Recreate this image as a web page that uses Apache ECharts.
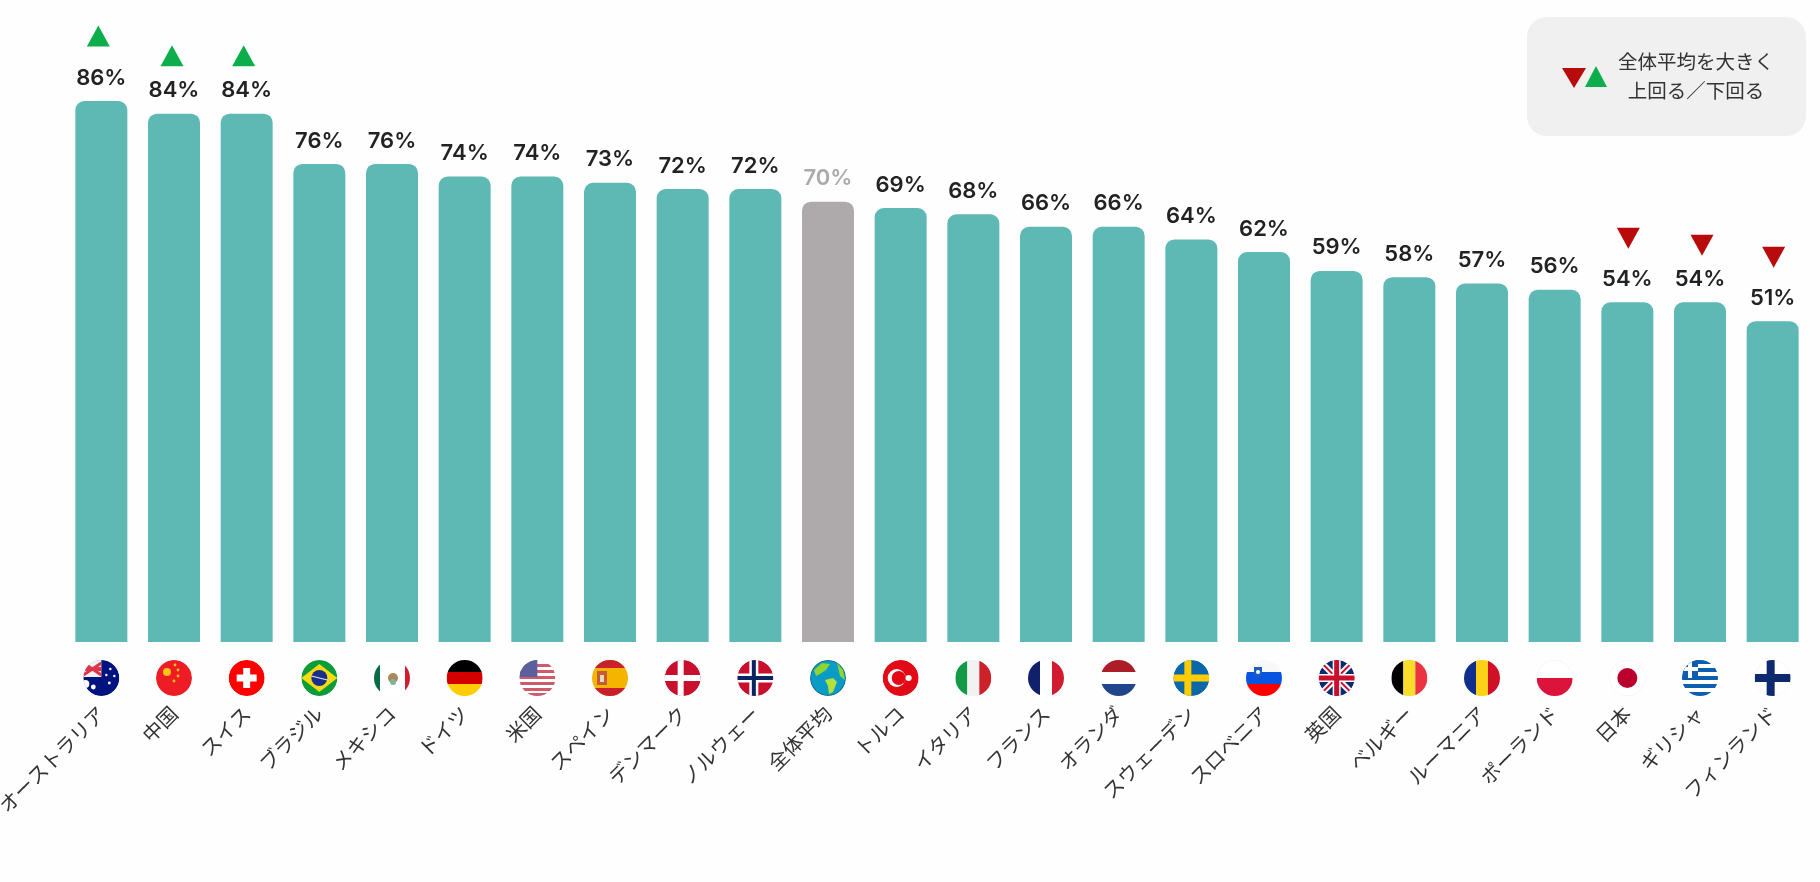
<!DOCTYPE html>
<html>
<head>
<meta charset="utf-8">
<style>
html,body{margin:0;padding:0;background:#fefefe;}
#chart{width:1820px;height:882px;}
</style>
<script src="https://cdn.jsdelivr.net/npm/echarts@6/dist/echarts.min.js"></script>
</head>
<body>
<div id="chart"></div>
<script>
var categories = ['オーストラリア','中国','スイス','ブラジル','メキシコ','ドイツ','米国','スペイン','デンマーク','ノルウェー','全体平均','トルコ','イタリア','フランス','オランダ','スウェーデン','スロベニア','英国','ベルギー','ルーマニア','ポーランド','日本','ギリシャ','フィンランド'];
var values = [86,84,84,76,76,74,74,73,72,72,70,69,68,66,66,64,62,59,58,57,56,54,54,51];
var flagKeys = ['au','cn','ch','br','mx','de','us','es','dk','no','globe','tr','it','fr','nl','se','si','uk','be','ro','pl','jp','gr','fi'];
var aboveAverage = ['オーストラリア','中国','スイス'];
var belowAverage = ['日本','ギリシャ','フィンランド'];
var averageName = '全体平均';

var JP_FONT = '"Noto Sans CJK JP"';

//マークの位置は国ごとに少しずれている
var markOffsets = {
    'オーストラリア':[-3,-65],
    '中国':[-2,-58],
    'スイス':[-3,-58],
    '日本':[1,-64],
    'ギリシャ':[2,-57],
    'フィンランド':[1,-64]
};

function R(x, y, w, h, c){
    return {type:'rect', shape:{x:x, y:y, width:w, height:h}, style:{fill:c}};
}
function C(x, y, r, c){
    return {type:'circle', shape:{cx:x, cy:y, r:r}, style:{fill:c}};
}
function P(points, c){
    return {type:'polygon', shape:{points:points}, style:{fill:c}};
}
function L(x1, y1, x2, y2, c, w){
    return {type:'line', shape:{x1:x1, y1:y1, x2:x2, y2:y2}, style:{stroke:c, lineWidth:w}};
}

//国旗 半径18の円の中に描く
function flagShapes(key){
    switch(key){
        case 'au': return [
            C(0,0,18,'#00137f'), R(-18,-18,18,17,'#f2f2f2'),
            L(-18,-15,0,-3,'#e0344a',3), L(0,-15,-18,-3,'#e0344a',3),
            R(-18,-11,18,4,'#e0344a'),
            C(-8,9,2.4,'#fff'), C(9,-9,1.2,'#fff'), C(13,-2,1.2,'#fff'), C(8,5,1.4,'#fff'), C(5,-3,1.2,'#fff'), C(-16,6,4,'#fff')
        ];
        case 'cn': return [
            C(0,0,18,'#ee1c25'), C(-7,-6,4,'#f7c515'), C(1,-13,1.4,'#f7c515'), C(4,-8,1.4,'#f7c515'), C(4,-2,1.4,'#f7c515'), C(0,3,1.4,'#f7c515')
        ];
        case 'ch': return [C(0,0,18,'#ff0000'), R(-3.5,-10,7,20,'#fff'), R(-10,-3.5,20,7,'#fff')];
        case 'br': return [
            C(0,0,18,'#0d9c3a'), P([[-18,0],[0,-14],[18,0],[0,14]],'#f5dc12'), C(0,0,8,'#1a2f8c'), L(-8,-2,8,2,'#dfe6ef',1.2)
        ];
        case 'mx': return [
            C(0,0,18,'#fff'), R(-18,-18,6,36,'#0a6a45'), R(13,-18,5,36,'#cf1f2e'), C(1,0,5,'#a9895a'), C(1,4,3,'#7fb49a')
        ];
        case 'de': return [R(-18,-18,36,12,'#000'), R(-18,-6,36,12,'#d40000'), R(-18,6,36,12,'#ffce00')];
        case 'us': return [
            R(-18,-18,36,36,'#fff'), R(-18,-14,36,3,'#cf5a6c'), R(-18,-8,36,3,'#cf5a6c'), R(-18,-2,36,3,'#cf5a6c'),
            R(-18,4,36,3,'#cf5a6c'), R(-18,10,36,3,'#cf5a6c'), R(-18,15,36,3,'#cf5a6c'), R(-18,-18,18,17,'#5b5f9d')
        ];
        case 'es': return [
            R(-18,-18,36,36,'#f4b400'), R(-18,-18,36,8,'#c8202d'), R(-18,10,36,8,'#c8202d'), R(-13,-7,10,14,'#c65a3a'), R(-10,-3,4,7,'#e6d9b8')
        ];
        case 'dk': return [C(0,0,18,'#c8102e'), R(-5,-18,6,36,'#fff'), R(-18,-3,36,6,'#fff')];
        case 'no': return [
            C(0,0,18,'#c8102e'), R(-6,-18,9,36,'#fff'), R(-18,-4.5,36,9,'#fff'), R(-3.5,-18,4,36,'#0a2463'), R(-18,-2,36,4,'#0a2463')
        ];
        case 'globe': return [
            C(0,0,18,'#0f6f7c'), C(0,0,17,'#0a9bc6'), P([[-14,-8],[-6,-15],[2,-14],[-2,-8],[-8,-4],[-12,-2]],'#8fd531'),
            P([[-3,2],[5,0],[9,4],[5,14],[1,16],[0,8]],'#b4e03a'), P([[9,-15],[15,-8],[17,2],[12,-2]],'#8fd531')
        ];
        case 'tr': return [C(0,0,18,'#e30a17'), C(-4,0,9,'#fff'), C(-2,0,7,'#e30a17'), C(8,0,3,'#fff')];
        case 'it': return [R(-18,-18,12,36,'#129a47'), R(-6,-18,12,36,'#f2f2f2'), R(6,-18,12,36,'#cd212a')];
        case 'fr': return [R(-18,-18,12,36,'#10206b'), R(-6,-18,12,36,'#fff'), R(6,-18,12,36,'#d01c2e')];
        case 'nl': return [R(-18,-18,36,12,'#ad1d28'), R(-18,-6,36,12,'#fff'), R(-18,6,36,12,'#21468b')];
        case 'se': return [C(0,0,18,'#0b68a8'), R(-7,-18,7,36,'#fecc02'), R(-18,-3.5,36,7,'#fecc02')];
        case 'si': return [
            C(0,0,18,'#f8f8f8'), R(-18,-6,36,12,'#0a55e0'), R(-18,6,36,12,'#ff0000'), P([[-10,-11],[-2,-11],[-2,-4],[-6,0],[-10,-4]],'#1a5fc8'), C(-6,-6,2,'#fff')
        ];
        case 'uk': return [
            C(0,0,18,'#0b2a6f'), L(-18,-18,18,18,'#fff',6), L(18,-18,-18,18,'#fff',6), L(-18,-18,18,18,'#c8102e',2), L(18,-18,-18,18,'#c8102e',2),
            R(-4,-18,8,36,'#fff'), R(-18,-4,36,8,'#fff'), R(-2.5,-18,5,36,'#c8102e'), R(-18,-2.5,36,5,'#c8102e')
        ];
        case 'be': return [R(-18,-18,12,36,'#000'), R(-6,-18,12,36,'#fadc2a'), R(6,-18,12,36,'#ee3340')];
        case 'ro': return [R(-18,-18,12,36,'#0f2f8f'), R(-6,-18,12,36,'#fcd116'), R(6,-18,12,36,'#ce1126')];
        case 'pl': return [C(0,0,18,'#f0f0f0'), C(0,0,17.4,'#fff'), R(-18,0,36,18,'#dc143c')];
        case 'jp': return [C(0,0,18,'#f0f0f0'), C(0,0,17.4,'#fff'), C(0,0,10,'#bc002d')];
        case 'gr': return [
            R(-18,-18,36,36,'#fff'), R(-18,-18,36,4,'#0d5eaf'), R(-18,-10,36,4,'#0d5eaf'), R(-18,-2,36,4,'#0d5eaf'), R(-18,6,36,4,'#0d5eaf'), R(-18,14,36,4,'#0d5eaf'),
            R(-18,-18,16,18,'#0d5eaf'), R(-12,-18,4,18,'#fff'), R(-18,-11,16,4,'#fff')
        ];
        case 'fi': return [C(0,0,18,'#f0f0f0'), C(0,0,17.4,'#fff'), R(-6,-18,8,36,'#0e2a6e'), R(-18,-4,36,8,'#0e2a6e')];
    }
    return [];
}

function renderFlag(params, api){
    var pos = api.coord([api.value(0), 0]);
    return {
        type:'group',
        x:pos[0],
        y:pos[1] + 36,
        clipPath:{type:'circle', shape:{cx:0, cy:0, r:18}},
        children:flagShapes(flagKeys[api.value(0)])
    };
}

function barData(){
    var res = [];
    for(var i = 0; i < values.length; i++){
        if(categories[i] === averageName){
            res.push({value:values[i], itemStyle:{color:'#aeaaab'}, label:{color:'#aeaaab'}});
        }else{
            res.push(values[i]);
        }
    }
    return res;
}

//全体平均との差のマーク
function markData(names){
    var res = [];
    for(var i = 0; i < categories.length; i++){
        if(names.indexOf(categories[i]) >= 0){
            res.push({value:[categories[i], values[i]], symbolOffset:markOffsets[categories[i]]});
        }
    }
    return res;
}

var flagData = [];
for(var i = 0; i < categories.length; i++){
    flagData.push([i, 0]);
}

var option = {
    backgroundColor:'#fefefe',
    animation:false,
    grid:{left:65, right:11, top:13, bottom:240, outerBoundsMode:'none'},
    xAxis:{
        type:'category',
        data:categories,
        axisLine:{show:false},
        axisTick:{show:false},
        axisLabel:{
            interval:0,
            rotate:45,
            margin:68,
            fontFamily:JP_FONT,
            fontSize:20,
            fontWeight:400,
            color:'#333333'
        }
    },
    yAxis:{type:'value', min:0, max:100, show:false},
    series:[
        {
            type:'bar',
            data:barData(),
            barWidth:52,
            itemStyle:{color:'#5eb8b4', borderRadius:[9,9,0,0]},
            label:{
                show:true,
                position:'top',
                distance:12,
                formatter:'{c}%',
                fontFamily:'Inter',
                fontWeight:600,
                fontSize:22,
                color:'#222222'
            }
        },
        {
            type:'scatter',
            data:markData(aboveAverage),
            symbol:'triangle',
            symbolSize:[23,21],
            itemStyle:{color:'#0cae4b', opacity:1}
        },
        {
            type:'scatter',
            data:markData(belowAverage),
            symbol:'triangle',
            symbolRotate:180,
            symbolSize:[23,21],
            itemStyle:{color:'#b90b0b', opacity:1}
        },
        {
            type:'custom',
            data:flagData,
            encode:{x:0, y:1},
            clip:false,
            silent:true,
            renderItem:renderFlag
        }
    ],
    graphic:[
        {type:'rect', left:1527, top:17, shape:{width:279, height:119, r:20}, style:{fill:'#f0f0f0'}},
        {type:'polygon', shape:{points:[[1562,68],[1586,68],[1574,88]]}, style:{fill:'#b90b0b'}},
        {type:'polygon', shape:{points:[[1585,87],[1607,87],[1596,66]]}, style:{fill:'#0cae4b'}},
        {type:'text', x:1696, y:76, style:{
            text:'全体平均を大きく\n上回る／下回る',
            align:'center', verticalAlign:'middle',
            font:'400 19.5px ' + JP_FONT, lineHeight:29, fill:'#333333'
        }}
    ]
};

var myChart = echarts.init(document.getElementById('chart'));
myChart.setOption(option);
</script>
</body>
</html>
